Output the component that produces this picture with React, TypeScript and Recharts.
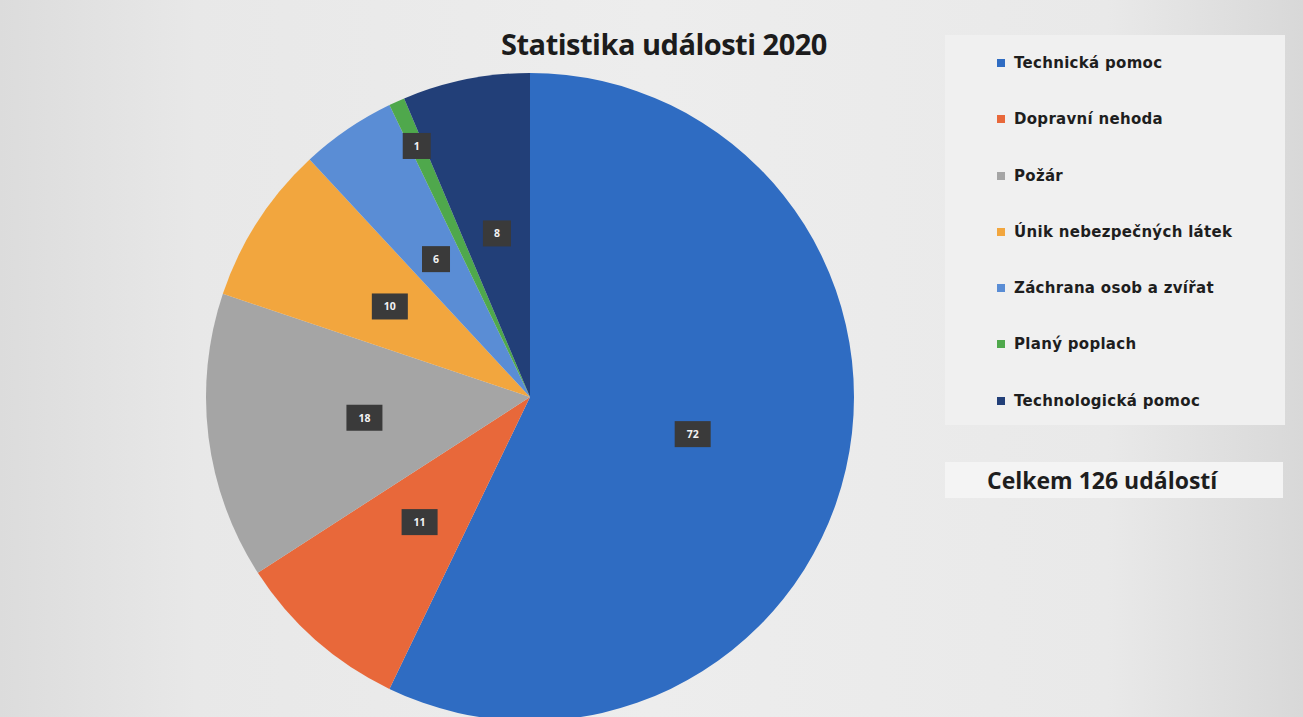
import React from 'react';
import { PieChart, Pie, Cell, Legend } from 'recharts';

const categories = [
  'Technická pomoc',
  'Dopravní nehoda',
  'Požár',
  'Únik nebezpečných látek',
  'Záchrana osob a zvířat',
  'Planý poplach',
  'Technologická pomoc',
];
const counts = [72, 11, 18, 10, 6, 1, 8];
const colors = ['#2f6cc2', '#e8683a', '#a5a5a5', '#f2a63e', '#5a8dd5', '#4fa84c', '#223f78'];

const chartTitle = 'Statistika události 2020';
const totalText = 'Celkem 126 událostí';

const data = categories.map((name, i) => ({ name, value: counts[i] }));

const RAD = Math.PI / 180;

// labels sit halfway out; tiny slices get pushed out near the rim (like Excel's best fit)
const renderLabel = (props: any) => {
  const { cx, cy, midAngle, outerRadius, value, percent } = props;
  const r = outerRadius * (percent < 0.02 ? 0.85 : 0.515);
  const x = cx + r * Math.cos(-midAngle * RAD);
  const y = cy + r * Math.sin(-midAngle * RAD);
  const txt = String(value);
  const w = txt.length * 8 + 20;
  const h = 26;
  return (
    <g>
      <rect x={x - w / 2} y={y - h / 2} width={w} height={h} fill="#3a3a3a" />
      <text
        x={x}
        y={y}
        fill="#f2f2f2"
        fontSize={10.5}
        fontWeight={700}
        fontFamily="'Open Sans', sans-serif"
        textAnchor="middle"
        dominantBaseline="central"
      >
        {txt}
      </text>
    </g>
  );
};

const renderLegend = () => (
  <div style={{ width: 340, paddingTop: 18 }}>
    {categories.map((name, i) => (
      <div
        key={name}
        style={{
          display: 'flex',
          alignItems: 'flex-start',
          height: 56.3,
          paddingLeft: 52,
          boxSizing: 'border-box',
        }}
      >
        <span style={{ width: 8, height: 8, background: colors[i], marginRight: 9, marginTop: 6 }} />
        <span
          style={{
            fontFamily: "'DejaVu Sans', sans-serif",
            fontWeight: 700,
            fontSize: 15,
            letterSpacing: 0.3,
            color: '#1e1e1e',
            lineHeight: '20px',
          }}
        >
          {name}
        </span>
      </div>
    ))}
  </div>
);

export default function App() {
  return (
    <div
      style={{
        position: 'fixed',
        left: 0,
        top: 0,
        width: 1303,
        height: 717,
        overflow: 'hidden',
        background: 'linear-gradient(90deg, #dcdcdc 0%, #e8e8e8 15%, #ededed 50%, #e9e9e9 85%, #d8d8d8 100%)',
      }}
    >
      {/* lighter panel behind the legend */}
      <div style={{ position: 'absolute', left: 945, top: 35, width: 340, height: 390, background: '#f0f0f0' }} />
      <div
        style={{
          position: 'absolute',
          left: 945,
          top: 462,
          width: 338,
          height: 36,
          background: '#f4f4f4',
          fontFamily: "'Open Sans', sans-serif",
          fontWeight: 700,
          fontSize: 23,
          color: '#1e1e1e',
          lineHeight: '36px',
          paddingLeft: 42,
          boxSizing: 'border-box',
        }}
      >
        {totalText}
      </div>
      <div
        style={{
          position: 'absolute',
          left: 402,
          top: 24,
          width: 524,
          textAlign: 'center',
          fontFamily: "'Open Sans', sans-serif",
          fontWeight: 700,
          fontSize: 29,
          letterSpacing: -0.5,
          color: '#1c1c1c',
          lineHeight: '40px',
        }}
      >
        {chartTitle}
      </div>
      <PieChart
        width={1303}
        height={717}
        margin={{ top: 0, right: 0, bottom: 0, left: 0 }}
        style={{ position: 'absolute', left: 0, top: 0 }}
      >
        <Pie
          data={data}
          dataKey="value"
          nameKey="name"
          cx={530}
          cy={397}
          outerRadius={324}
          startAngle={90}
          endAngle={-270}
          stroke="none"
          label={renderLabel}
          labelLine={false}
          isAnimationActive={false}
        >
          {data.map((d, i) => (
            <Cell key={d.name} fill={colors[i]} />
          ))}
        </Pie>
        <Legend
          content={renderLegend}
          layout="vertical"
          verticalAlign="top"
          align="right"
          wrapperStyle={{ position: 'absolute', left: 945, top: 35, width: 340 }}
        />
      </PieChart>
    </div>
  );
}
